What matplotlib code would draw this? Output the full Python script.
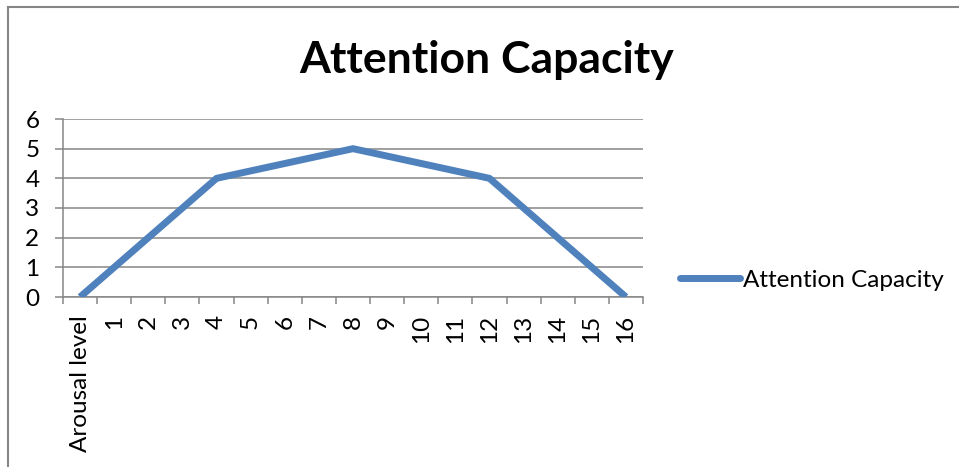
import matplotlib
matplotlib.use("Agg")
import matplotlib.pyplot as plt
from matplotlib.lines import Line2D

plt.rcParams['font.family'] = ['Lato', 'DejaVu Sans']

categories = ["Arousal level"] + [str(i) for i in range(1, 17)]
capacity = [0, 1, 2, 3, 4, 4.25, 4.5, 4.75, 5, 4.75, 4.5, 4.25, 4, 3, 2, 1, 0]
series_name = "Attention Capacity"
y_ticks = [0, 1, 2, 3, 4, 5, 6]

grey = "#868686"
blue = "#4F81BD"

fig = plt.figure(figsize=(9.59, 4.67), dpi=100)
ax = fig.add_axes([63 / 959, 1 - 297 / 467, 580 / 959, 178 / 467])

x = list(range(len(categories)))
ax.plot(x, capacity, color=blue, lw=5, solid_capstyle="butt",
        solid_joinstyle="round", label=series_name, zorder=3)

ax.set_xlim(-0.5, len(categories) - 0.5)
ax.set_ylim(0, 6)
ax.set_yticks(y_ticks)
ax.set_xticks(x)
ax.set_xticklabels(categories, rotation=90, va="top", ha="center")
ax.set_xticks([i - 0.5 for i in range(len(categories) + 1)], minor=True)

ax.grid(axis="y", color=grey, lw=1.1)
ax.set_axisbelow(True)
for s in ["top", "right"]:
    ax.spines[s].set_visible(False)
for s in ["left", "bottom"]:
    ax.spines[s].set_color(grey)
    ax.spines[s].set_linewidth(1.1)

ax.tick_params(axis="y", length=6, width=1.1, color=grey, pad=11, labelsize=17.5)
ax.tick_params(axis="x", which="major", length=0, pad=13, labelsize=17.5)
ax.tick_params(axis="x", which="minor", length=5, width=1.1, color=grey)

fig.suptitle("Attention Capacity", x=487 / 959, y=1 - 60 / 467,
             va="center", fontsize=32, fontweight="bold")

leg = ax.legend(loc="center left", bbox_to_anchor=(1.064, 0.095),
                frameon=False, fontsize=17.5, handlelength=2.45,
                handletextpad=0.12, borderpad=0, borderaxespad=0)
leg.get_lines()[0].set_solid_capstyle("round")

# chart frame
fig.add_artist(Line2D([8 / 959, 8 / 959], [0, 1 - 7 / 467], color=grey, lw=1.5))
fig.add_artist(Line2D([8 / 959, 1], [1 - 7 / 467, 1 - 7 / 467], color=grey, lw=1.5))

fig.savefig("out.png", dpi=100)
